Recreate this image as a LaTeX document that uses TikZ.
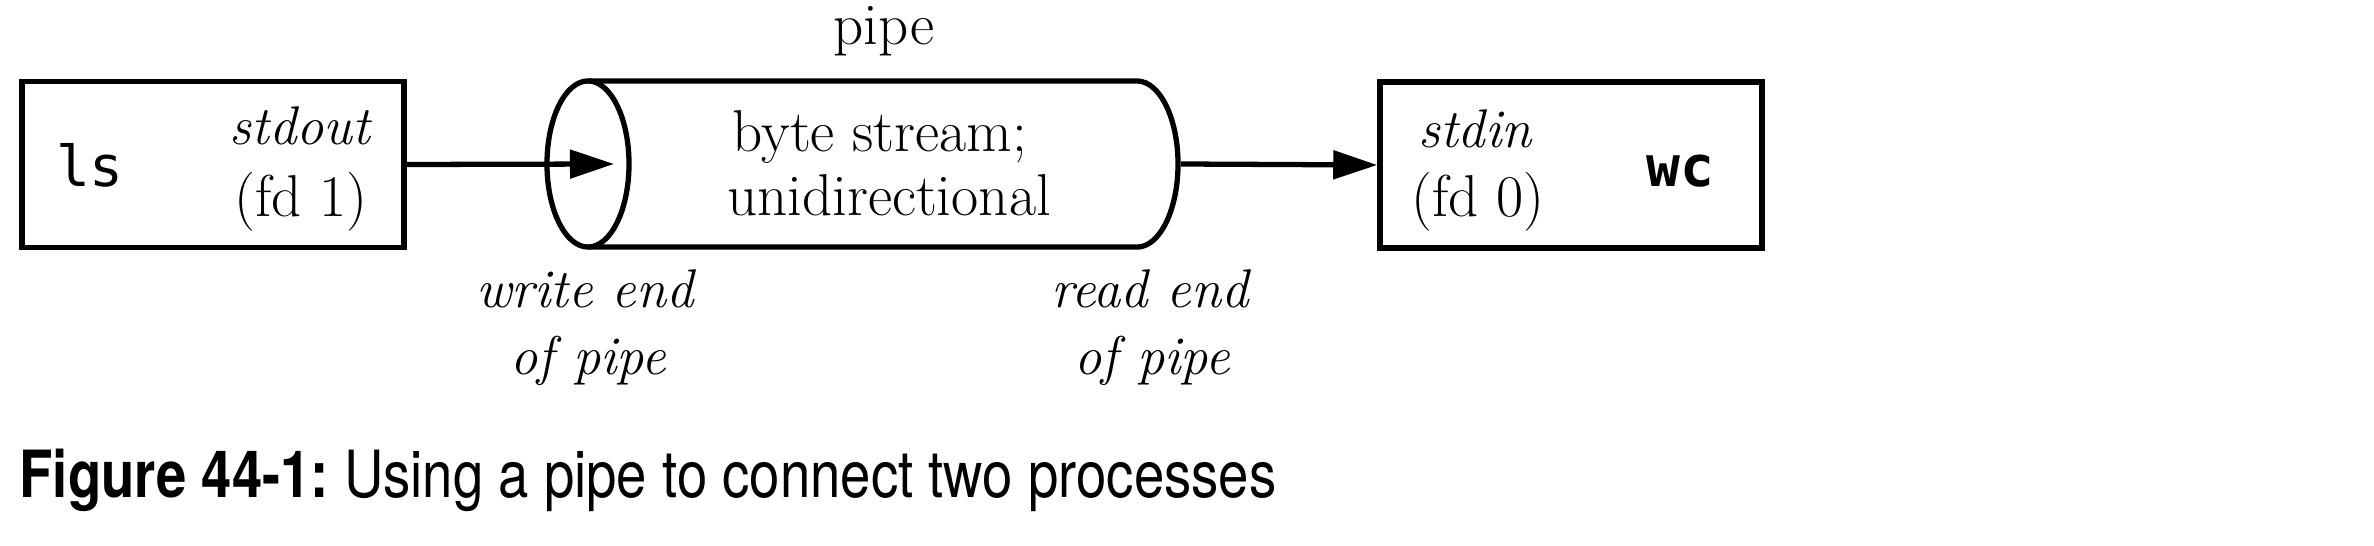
\documentclass[tikz,border=0pt]{standalone}
\usepackage{fontspec}
\usepackage{graphicx}
\setmonofont{DejaVu Sans Mono}
\newfontfamily\capfont{TeX Gyre Heros}
\usetikzlibrary{arrows.meta}
\begin{document}
\begin{tikzpicture}[x=0.01cm,y=-0.01cm, line width=1.5pt,
  box/.style={draw, minimum width=3.82cm, minimum height=1.66cm, inner sep=0pt},
  up/.style={anchor=base, inner sep=0pt, font=\fontsize{16.8}{20}\selectfont},
  it/.style={anchor=base, inner sep=0pt, font=\fontsize{15.5}{19}\selectfont\itshape},
  code/.style={anchor=base, inner sep=0pt, font=\fontsize{16}{19}\selectfont\ttfamily},
  arr/.style={-{Triangle[length=0.44cm,width=0.28cm]}}]
\useasboundingbox (0,0) rectangle (2374,546);
% process boxes
\node[box] (ls) at (213,164.5) {};
\node[box] (wc) at (1571,165) {};
% pipe body (anchor node)
\node[minimum width=6.31cm, minimum height=1.66cm, inner sep=0pt] (pipebody) at (862.5,164) {};
\draw (588,81) -- (1137,81) arc[start angle=90, end angle=-90, x radius=0.41cm, y radius=0.83cm] -- (588,247);
\draw (588,164) ellipse [x radius=0.41cm, y radius=0.83cm];
% texts
\node[code] (lst) at (90,187) {ls};
\node[it] (stdout) at (300,145) {stdout};
\node[up] (fd1) at (301,217) {(fd 1)};
\node[up] (pipelbl) at (884,45) {pipe};
\node[up] (bs) at (880,152) {byte stream;};
\node[up] (uni) at (889,216) {unidirectional};
\node[it] (stdin) at (1475,148) {stdin};
\node[up] (fd0) at (1478,217) {(fd 0)};
\node[code, font=\fontsize{16}{19}\selectfont\ttfamily\bfseries] (wct) at (1680,187) {wc};
\node[it] (we1) at (585,308) {write end};
\node[it] (we2) at (588,375) {of pipe};
\node[it] (re1) at (1150,308) {read end};
\node[it] (re2) at (1152,375) {of pipe};
% connectors
\coordinate (wend) at (614,164);
\draw[arr] (ls.east) -- (wend);
\draw[arr] (pipebody.east) -- (wc.west);
% caption
\node[anchor=base west, inner sep=0pt] (cap) at (17,498) {\resizebox{12.56cm}{\height}{\capfont\fontsize{18.5}{22}\selectfont\bfseries Figure 44-1:\mdseries\ Using a pipe to connect two processes}};
\end{tikzpicture}
\end{document}
